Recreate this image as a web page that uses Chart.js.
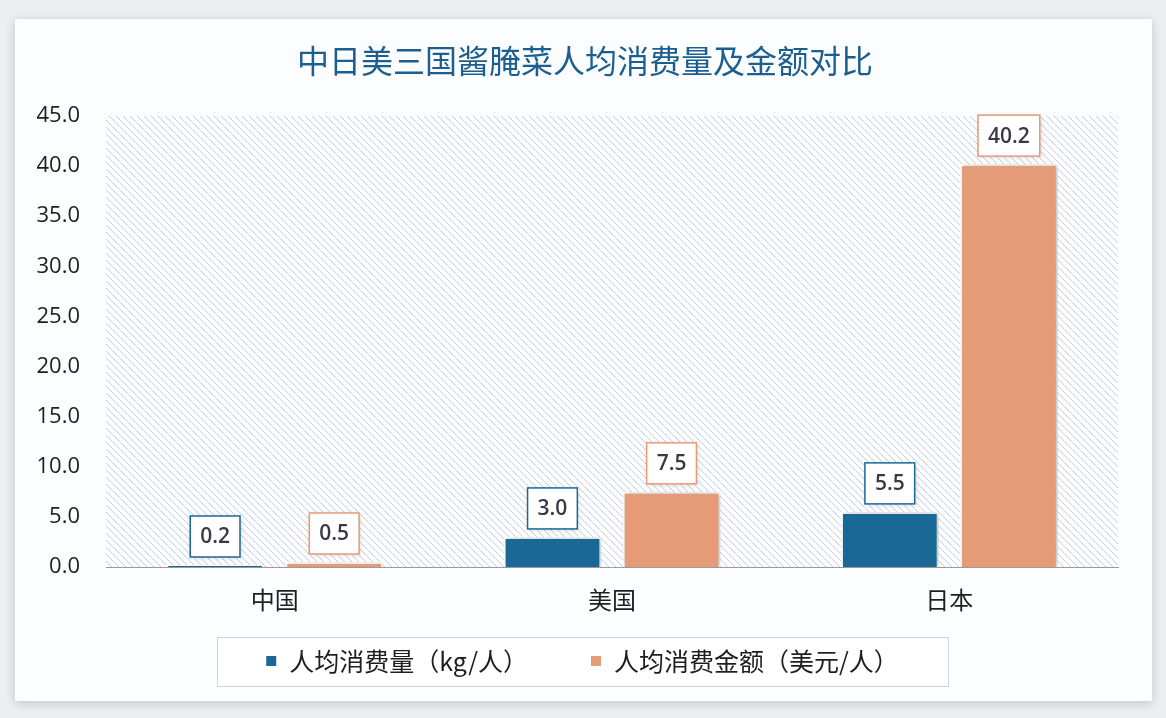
<!DOCTYPE html>
<html>
<head>
<meta charset="utf-8">
<script src="https://cdn.jsdelivr.net/npm/chart.js@4/dist/chart.umd.min.js"></script>
<style>
html,body{margin:0;padding:0;background:#eceef1;}
#c{display:block;}
</style>
</head>
<body>
<canvas id="c" width="1166" height="718"></canvas>
<script>
const titleText = '中日美三国酱腌菜人均消费量及金额对比';
const categories = ['中国', '美国', '日本'];
const seriesNames = ['人均消费量（kg/人）', '人均消费金额（美元/人）'];
const volumeValues = [0.2, 3.0, 5.5];
const amountValues = [0.5, 7.5, 40.2];
const yTicks = [0, 5, 10, 15, 20, 25, 30, 35, 40, 45];

const BLUE = '#1a6896';
const ORANGE = '#e59b77';
const FONT = "'Open Sans', 'Noto Sans CJK SC', sans-serif";
const CJK = "'Noto Sans CJK SC', 'Open Sans', sans-serif";

function makeHatch() {
  const s = 7;
  const p = document.createElement('canvas');
  p.width = s; p.height = s;
  const g = p.getContext('2d');
  g.strokeStyle = '#c9cdd3';
  g.lineWidth = 1;
  for (const k of [-s, 0, s]) {
    g.beginPath();
    g.moveTo(k - 1, -1);
    g.lineTo(k + s + 1, s + 1);
    g.stroke();
  }
  return p;
}

const cardPlugin = {
  id: 'card',
  beforeDraw(chart) {
    const ctx = chart.ctx;
    ctx.save();
    ctx.fillStyle = '#eceef1';
    ctx.fillRect(0, 0, chart.width, chart.height);
    ctx.shadowColor = 'rgba(0,0,0,0.18)';
    ctx.shadowBlur = 10;
    ctx.shadowOffsetX = 0;
    ctx.shadowOffsetY = 2;
    ctx.fillStyle = '#fcfdfe';
    ctx.fillRect(15, 19, 1137, 682);
    ctx.restore();
    const a = chart.chartArea;
    ctx.save();
    ctx.fillStyle = ctx.createPattern(makeHatch(), 'repeat');
    ctx.fillRect(a.left, a.top, a.right - a.left, a.bottom - a.top);
    ctx.restore();
    ctx.save();
    ctx.font = '32px ' + CJK;
    ctx.fillStyle = '#1b5e90';
    ctx.textAlign = 'center';
    ctx.textBaseline = 'middle';
    ctx.fillText(chart.options.plugins.chartTitle.text, 585, 61);
    ctx.restore();
  }
};

const shadowPlugin = {
  id: 'barShadow',
  beforeDatasetDraw(chart) {
    const ctx = chart.ctx;
    ctx.save();
    ctx.shadowColor = 'rgba(0,0,0,0.28)';
    ctx.shadowBlur = 6;
    ctx.shadowOffsetX = 2;
    ctx.shadowOffsetY = 0;
  },
  afterDatasetDraw(chart) {
    chart.ctx.restore();
  }
};

const labelPlugin = {
  id: 'valueBoxes',
  afterDatasetsDraw(chart) {
    const ctx = chart.ctx;
    ctx.save();
    ctx.font = '600 21px ' + FONT;
    ctx.textAlign = 'center';
    ctx.textBaseline = 'middle';
    chart.data.datasets.forEach((ds, i) => {
      const meta = chart.getDatasetMeta(i);
      meta.data.forEach((el, j) => {
        const txt = ds.data[j].toFixed(1);
        const w = ctx.measureText(txt).width + 20;
        const h = 41;
        const x = el.x - w / 2;
        const y = el.y - 8 - h;
        ctx.save();
        ctx.shadowColor = 'rgba(0,0,0,0.18)';
        ctx.shadowBlur = 5;
        ctx.shadowOffsetX = 1;
        ctx.shadowOffsetY = 1;
        ctx.fillStyle = '#ffffff';
        ctx.fillRect(x, y, w, h);
        ctx.restore();
        ctx.strokeStyle = ds.backgroundColor;
        ctx.lineWidth = 1.5;
        ctx.strokeRect(x, y, w, h);
        ctx.fillStyle = '#3a3746';
        ctx.fillText(txt, el.x, y + h / 2 + 1);
      });
    });
    ctx.restore();
  }
};

const legendPlugin = {
  id: 'boxLegend',
  afterDraw(chart) {
    const ctx = chart.ctx;
    ctx.save();
    ctx.fillStyle = '#ffffff';
    ctx.fillRect(217, 637, 731, 49);
    ctx.strokeStyle = '#cfd3d9';
    ctx.lineWidth = 1;
    ctx.strokeRect(217.5, 637.5, 731, 49);
    ctx.font = '25px ' + CJK;
    ctx.textBaseline = 'middle';
    ctx.textAlign = 'left';
    const ds = chart.data.datasets;
    const widths = ds.map(d => 10 + 13 + ctx.measureText(d.label).width);
    const gap = 63;
    const total = widths.reduce((a, b) => a + b, 0) + gap * (ds.length - 1);
    let x = 582.5 - total / 2;
    const cy = 661;
    ds.forEach((d, i) => {
      ctx.fillStyle = d.backgroundColor;
      ctx.fillRect(x, cy - 5, 10, 10);
      ctx.fillStyle = '#1e1e1e';
      ctx.fillText(d.label, x + 23, cy);
      x += widths[i] + gap;
    });
    ctx.restore();
  }
};

new Chart(document.getElementById('c'), {
  type: 'bar',
  data: {
    labels: categories,
    datasets: [
      { label: seriesNames[0], data: volumeValues, backgroundColor: BLUE, borderColor: '#ffffff', borderWidth: 2 },
      { label: seriesNames[1], data: amountValues, backgroundColor: ORANGE, borderColor: '#ffffff', borderWidth: 2 }
    ]
  },
  options: {
    responsive: false,
    animation: false,
    devicePixelRatio: 1,
    layout: { padding: { left: 15, right: 48, top: 116, bottom: 104 } },
    datasets: { bar: { categoryPercentage: 0.706, barPercentage: 0.82 } },
    plugins: {
      legend: { display: false },
      tooltip: { enabled: false },
      title: { display: false },
      chartTitle: { text: titleText }
    },
    scales: {
      x: {
        grid: { display: false, drawTicks: false },
        border: { display: true, color: '#9a9a9a', width: 1 },
        ticks: { color: '#1e1e1e', font: { family: CJK, size: 24 }, padding: 18 },
        afterFit(s) { s.height = 47; }
      },
      y: {
        min: 0,
        max: 45,
        grid: { display: false, drawTicks: false },
        border: { display: false },
        afterBuildTicks(s) { s.ticks = yTicks.map(v => ({ value: v })); },
        ticks: {
          color: '#1e1e1e',
          font: { family: FONT, size: 22 },
          padding: 26,
          callback: v => Number(v).toFixed(1)
        },
        afterFit(s) { s.width = 91; }
      }
    }
  },
  plugins: [cardPlugin, shadowPlugin, labelPlugin, legendPlugin]
});
</script>
</body>
</html>
